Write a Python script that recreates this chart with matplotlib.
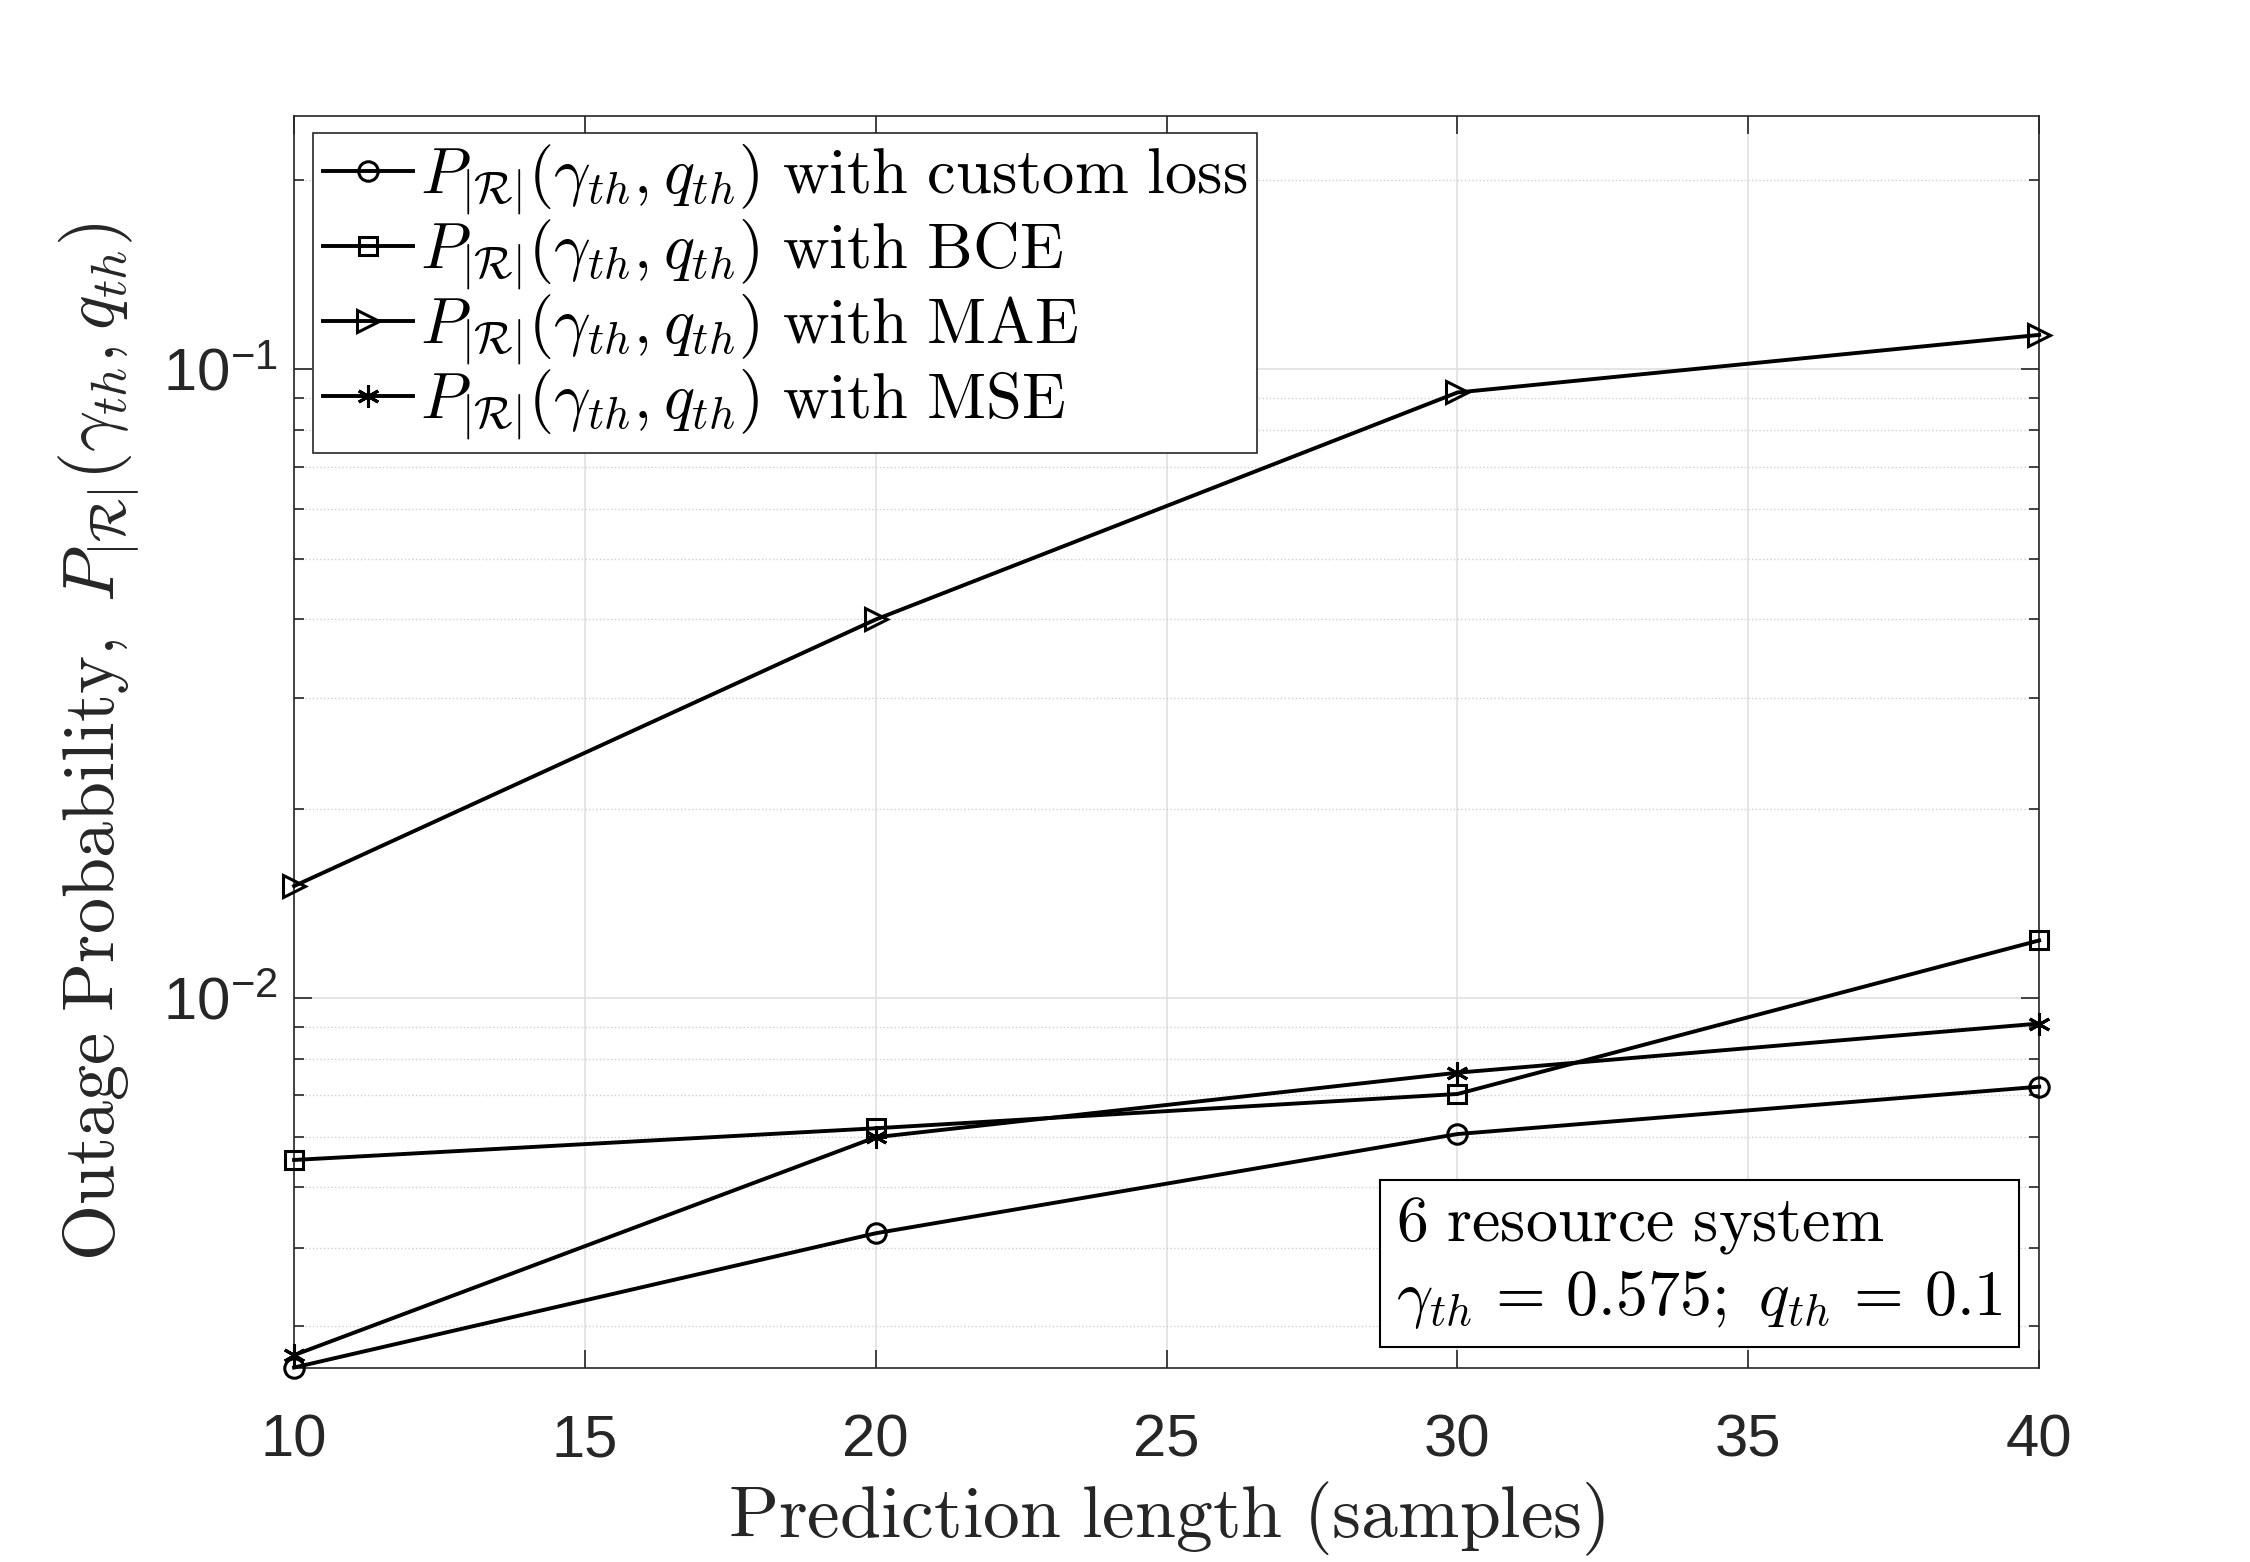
import matplotlib
matplotlib.use("Agg")
import matplotlib.pyplot as plt
from matplotlib.ticker import FixedLocator, FixedFormatter, LogLocator, NullFormatter

# prediction length (samples)
pred_len = [10, 20, 30, 40]

# outage probability per loss function
p_custom = [0.00258, 0.00422, 0.00607, 0.00722]
p_bce = [0.00552, 0.00620, 0.00703, 0.01234]
p_mae = [0.01506, 0.0400, 0.0919, 0.1135]
p_mse = [0.00270, 0.00600, 0.00760, 0.00910]

x_ticks = [10, 15, 20, 25, 30, 35, 40]
y_ticks = [0.01, 0.1]
y_tick_labels = [r"$\mathregular{10^{-2}}$", r"$\mathregular{10^{-1}}$"]

leg_base = r"$P_{|\mathcal{R}|}(\gamma_{th}, q_{th})\ \mathrm{with\ %s}$"
labels = [leg_base % r"custom\ loss", leg_base % "BCE", leg_base % "MAE", leg_base % "MSE"]

plt.rcParams["mathtext.fontset"] = "cm"
plt.rcParams["font.family"] = ["Liberation Sans", "DejaVu Sans"]

fig = plt.figure(figsize=(22.5, 15.62), dpi=100)
ax = fig.add_axes([0.1307, 0.1245, 0.7756, 0.8015])

lw = 2.8
mk = dict(color="k", lw=lw, mfc="none", mew=2.2, clip_on=False, zorder=3)
ax.plot(pred_len, p_custom, "-o", ms=14, label=labels[0], **mk)
ax.plot(pred_len, p_bce, "-s", ms=13, label=labels[1], **mk)
ax.plot(pred_len, p_mae, "->", ms=16, label=labels[2], **mk)
ax.plot(pred_len, p_mse, "-", marker=(6, 2, 0), ms=16, label=labels[3], **mk)

ax.set_yscale("log")
ax.set_xlim(10, 40)
ax.set_ylim(0.00258, 0.2535)

ax.xaxis.set_major_locator(FixedLocator(x_ticks))
ax.yaxis.set_major_locator(FixedLocator(y_ticks))
ax.yaxis.set_major_formatter(FixedFormatter(y_tick_labels))
ax.yaxis.set_minor_locator(LogLocator(base=10, subs=range(2, 10)))
ax.yaxis.set_minor_formatter(NullFormatter())

axcol = "#262626"
for s in ax.spines.values():
    s.set_color(axcol)
    s.set_linewidth(1.2)
ax.tick_params(which="both", direction="in", top=True, right=True, colors=axcol,
               labelsize=43, width=1.2)
ax.tick_params(which="major", length=13)
ax.tick_params(which="minor", length=7)
ax.tick_params(axis="x", pad=33)
ax.tick_params(axis="y", pad=12)

ax.grid(True, which="major", color="#e0e0e0", lw=1.2)
ax.grid(True, which="minor", axis="y", color="#d0d0d0", lw=1.0, ls=":")
ax.set_axisbelow(True)

ax.set_xlabel(r"$\mathrm{Prediction\ length\ (samples)}$", fontsize=53, color=axcol, labelpad=8)
ax.set_ylabel(r"$\mathrm{Outage\ Probability,}\ P_{|\mathcal{R}|}(\gamma_{th}, q_{th})$",
              fontsize=52, color=axcol, labelpad=15)

leg = ax.legend(loc="upper left", bbox_to_anchor=(0.011, 0.986), borderaxespad=0,
                fontsize=46.5, handlelength=1.4, handletextpad=0.1, labelspacing=0.0,
                borderpad=0.15, fancybox=False, framealpha=1, edgecolor=axcol)
leg.get_frame().set_linewidth(1.2)

ax.text(0.979, 0.029, "$\\mathrm{6\\ resource\\ system}$\n$\\gamma_{th}\\,=\\,0.575;\\ q_{th}\\,=\\,0.1$",
        transform=ax.transAxes, ha="right", va="bottom", multialignment="left",
        fontsize=46, linespacing=1.25,
        bbox=dict(boxstyle="square,pad=0.25", fc="white", ec="k", lw=1.5))

fig.savefig("out.png", dpi=100)
